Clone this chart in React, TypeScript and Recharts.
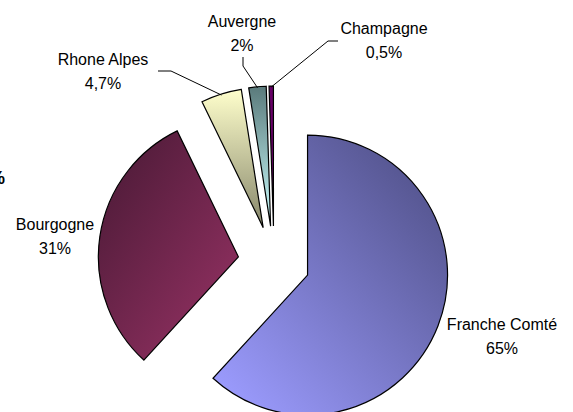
import React from 'react';
import { PieChart, Pie, Cell } from 'recharts';

// ---- data ----
const categories = ['Franche Comté', 'Bourgogne', 'Rhone Alpes', 'Auvergne', 'Champagne'];
const shares = [61.8, 31, 4.7, 2, 0.5];
const shareLabels = ['65%', '31%', '4,7%', '2%', '0,5%'];

// ---- styles / layout ----
const W = 573;
const H = 412;
const CX = 274;
const CY = 262;
const R = 140;
const EXPLODE = 36;
const RAD = Math.PI / 180;
const FONT = '"Liberation Sans", Arial, sans-serif';

const GRADIENTS = [
  { x1: 1, y1: 0, x2: 0.1, y2: 1, from: '#4a4a7e', to: '#9c9cff' },
  { x1: 0.1, y1: 0, x2: 1, y2: 1, from: '#4a1a36', to: '#9a3366' },
  { x1: 0, y1: 0, x2: 0, y2: 1, from: '#ffffcc', to: '#85856a' },
  { x1: 0, y1: 0, x2: 0, y2: 1, from: '#5a7a7b', to: '#ccffff' },
  { x1: 0, y1: 0, x2: 0, y2: 1, from: '#660066', to: '#6a006a' },
];

const LABEL_LAYOUT: { x: number; y: number; line: number[][] | null }[] = [
  { x: 502, y: 330, line: null },
  { x: 55, y: 230, line: null },
  { x: 103, y: 65, line: [[158, 71], [171, 71]] },
  { x: 242, y: 27, line: [[243, 57], [243, 66]] },
  { x: 384, y: 34, line: [[338, 41], [328, 41]] },
];

const rows = categories.map((name, i) => ({ name, value: shares[i], label: shareLabels[i] }));

const total = shares.reduce((a, b) => a + b, 0);
const midAngles: number[] = [];
{
  let cum = 0;
  shares.forEach((v) => {
    midAngles.push(90 - (360 * (cum + v / 2)) / total);
    cum += v;
  });
}

const makeLabel = (target: number) => (props: any) => {
  if (props.index !== target) return <g />;
  const L = LABEL_LAYOUT[target];
  const a = -props.midAngle * RAD;
  const ex = props.cx + (props.outerRadius - 1) * Math.cos(a);
  const ey = props.cy + (props.outerRadius - 1) * Math.sin(a);
  return (
    <g>
      {L.line && (
        <polyline
          points={[...L.line, [ex, ey]].map((p) => p.join(',')).join(' ')}
          fill="none"
          stroke="#000"
          strokeWidth={1}
        />
      )}
      <text x={L.x} y={L.y} textAnchor="middle" fontFamily={FONT} fontSize={16} fill="#000">
        {rows[target].name}
      </text>
      <text x={L.x} y={L.y + 24} textAnchor="middle" fontFamily={FONT} fontSize={16} fill="#000">
        {rows[target].label}
      </text>
    </g>
  );
};

export default function App() {
  return (
    <div style={{ position: 'absolute', left: 0, top: 0, width: W, height: H, background: '#fff' }}>
      <PieChart width={W} height={H} margin={{ top: 0, right: 0, bottom: 0, left: 0 }}>
        <defs>
          {GRADIENTS.map((g, i) => (
            <linearGradient key={i} id={`slice-grad-${i}`} x1={g.x1} y1={g.y1} x2={g.x2} y2={g.y2}>
              <stop offset="0%" stopColor={g.from} />
              <stop offset="100%" stopColor={g.to} />
            </linearGradient>
          ))}
        </defs>
        {rows.map((_, i) => (
          <Pie
            key={i}
            data={rows}
            dataKey="value"
            nameKey="name"
            cx={CX + EXPLODE * Math.cos(midAngles[i] * RAD)}
            cy={CY - EXPLODE * Math.sin(midAngles[i] * RAD)}
            outerRadius={R}
            innerRadius={0}
            startAngle={90}
            endAngle={-270}
            isAnimationActive={false}
            labelLine={false}
            label={makeLabel(i)}
          >
            {rows.map((__, j) => (
              <Cell
                key={j}
                fill={j === i ? `url(#slice-grad-${i})` : 'none'}
                stroke={j === i ? '#000' : 'none'}
                strokeWidth={1.2}
              />
            ))}
          </Pie>
        ))}
        <text x={5} y={184} textAnchor="end" fontFamily={FONT} fontSize={18} fontWeight="bold" fill="#000">
          %
        </text>
      </PieChart>
    </div>
  );
}
